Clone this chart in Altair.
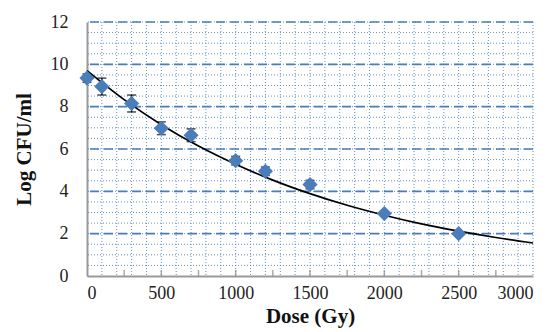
import altair as alt
import pandas as pd
import numpy as np

dose = [0, 100, 300, 500, 700, 1000, 1200, 1500, 2000, 2500]
log_cfu = [9.35, 8.95, 8.15, 6.98, 6.65, 5.45, 4.95, 4.32, 2.95, 2.0]
err = [0.2, 0.4, 0.4, 0.3, 0.3, 0.2, 0.2, 0.2, 0.1, 0.1]

# trend line
trend_dose = [0, 250, 500, 750, 1000, 1250, 1500, 1750, 2000, 2250, 2500, 2750, 3000]
trend_val = [9.7, 8.33, 7.15, 6.14, 5.28, 4.53, 3.89, 3.34, 2.87, 2.46, 2.12, 1.82, 1.56]

x_ticks = [0, 500, 1000, 1500, 2000, 2500, 3000]
y_ticks = [0, 2, 4, 6, 8, 10, 12]
x_minor_ticks = [250, 500, 750, 1000, 1250, 1500, 1750, 2000, 2250, 2500, 2750]

df = pd.DataFrame({"dose": dose, "logcfu": log_cfu, "err": err})
df["lo"] = df["logcfu"] - df["err"]
df["hi"] = df["logcfu"] + df["err"]
trend = pd.DataFrame({"dose": trend_dose, "val": trend_val})

grid_y_minor = pd.DataFrame({"v": np.arange(0.5, 12.01, 0.5)})
grid_y_major = pd.DataFrame({"v": [2, 4, 6, 8, 10, 12]})
grid_x_minor = pd.DataFrame({"v": np.arange(100, 3001, 100)})
xtick_df = pd.DataFrame({"v": x_minor_ticks, "y": [0] * len(x_minor_ticks)})

BLUE = "#4a7ebb"
FONT = "Liberation Serif, Times New Roman, serif"
xs = alt.Scale(domain=[0, 3000], nice=False)
ys = alt.Scale(domain=[0, 12], nice=False)

base = alt.Chart(df)

vgrid = alt.Chart(grid_x_minor).mark_rule(color=BLUE, strokeDash=[1, 2], strokeWidth=1, opacity=0.85).encode(
    x=alt.X("v:Q", scale=xs))
hgrid = alt.Chart(grid_y_minor).mark_rule(color=BLUE, strokeDash=[1, 2], strokeWidth=1, opacity=0.85).encode(
    y=alt.Y("v:Q", scale=ys))
hmajor = alt.Chart(grid_y_major).mark_rule(color=BLUE, strokeDash=[9, 5], strokeWidth=1.6).encode(
    y=alt.Y("v:Q", scale=ys))
xticks_in = alt.Chart(xtick_df).mark_tick(color="#888", thickness=1.5, size=6, orient="vertical", yOffset=-3).encode(
    x=alt.X("v:Q", scale=xs), y=alt.Y("y:Q", scale=ys))

curve = alt.Chart(trend).mark_line(color="black", strokeWidth=1.7, interpolate="monotone").encode(
    x=alt.X("dose:Q", scale=xs), y=alt.Y("val:Q", scale=ys))

bars = base.mark_rule(color="black", strokeWidth=1.3).encode(
    x=alt.X("dose:Q", scale=xs), y=alt.Y("lo:Q", scale=ys), y2="hi:Q")
cap_lo = base.mark_tick(color="black", thickness=1.5, size=9, orient="horizontal").encode(
    x=alt.X("dose:Q", scale=xs), y=alt.Y("lo:Q", scale=ys))
cap_hi = base.mark_tick(color="black", thickness=1.5, size=9, orient="horizontal").encode(
    x=alt.X("dose:Q", scale=xs), y=alt.Y("hi:Q", scale=ys))

points = base.mark_point(shape="diamond", filled=True, size=230, color=BLUE, opacity=1).encode(
    x=alt.X("dose:Q", scale=xs,
            axis=alt.Axis(title="Dose (Gy)", values=x_ticks, format="d", grid=False, ticks=False)),
    y=alt.Y("logcfu:Q", scale=ys,
            axis=alt.Axis(title="Log CFU/ml", values=y_ticks, format="d", grid=False, ticks=False)))

chart = alt.layer(vgrid, hgrid, hmajor, xticks_in, curve, bars, cap_lo, cap_hi, points).properties(
    width=446, height=254
).configure_view(stroke=None).configure_axis(
    labelFont=FONT, labelFontSize=18, labelColor="#222",
    titleFont=FONT, titleFontSize=21, titleFontWeight="bold", titleColor="#111",
    domainColor="#999", domainWidth=2,
).configure_axisY(titlePadding=16, labelPadding=19).configure_axisX(titlePadding=3, labelPadding=8)

chart.save("out.html", embed_options={"renderer": "svg", "actions": False})
